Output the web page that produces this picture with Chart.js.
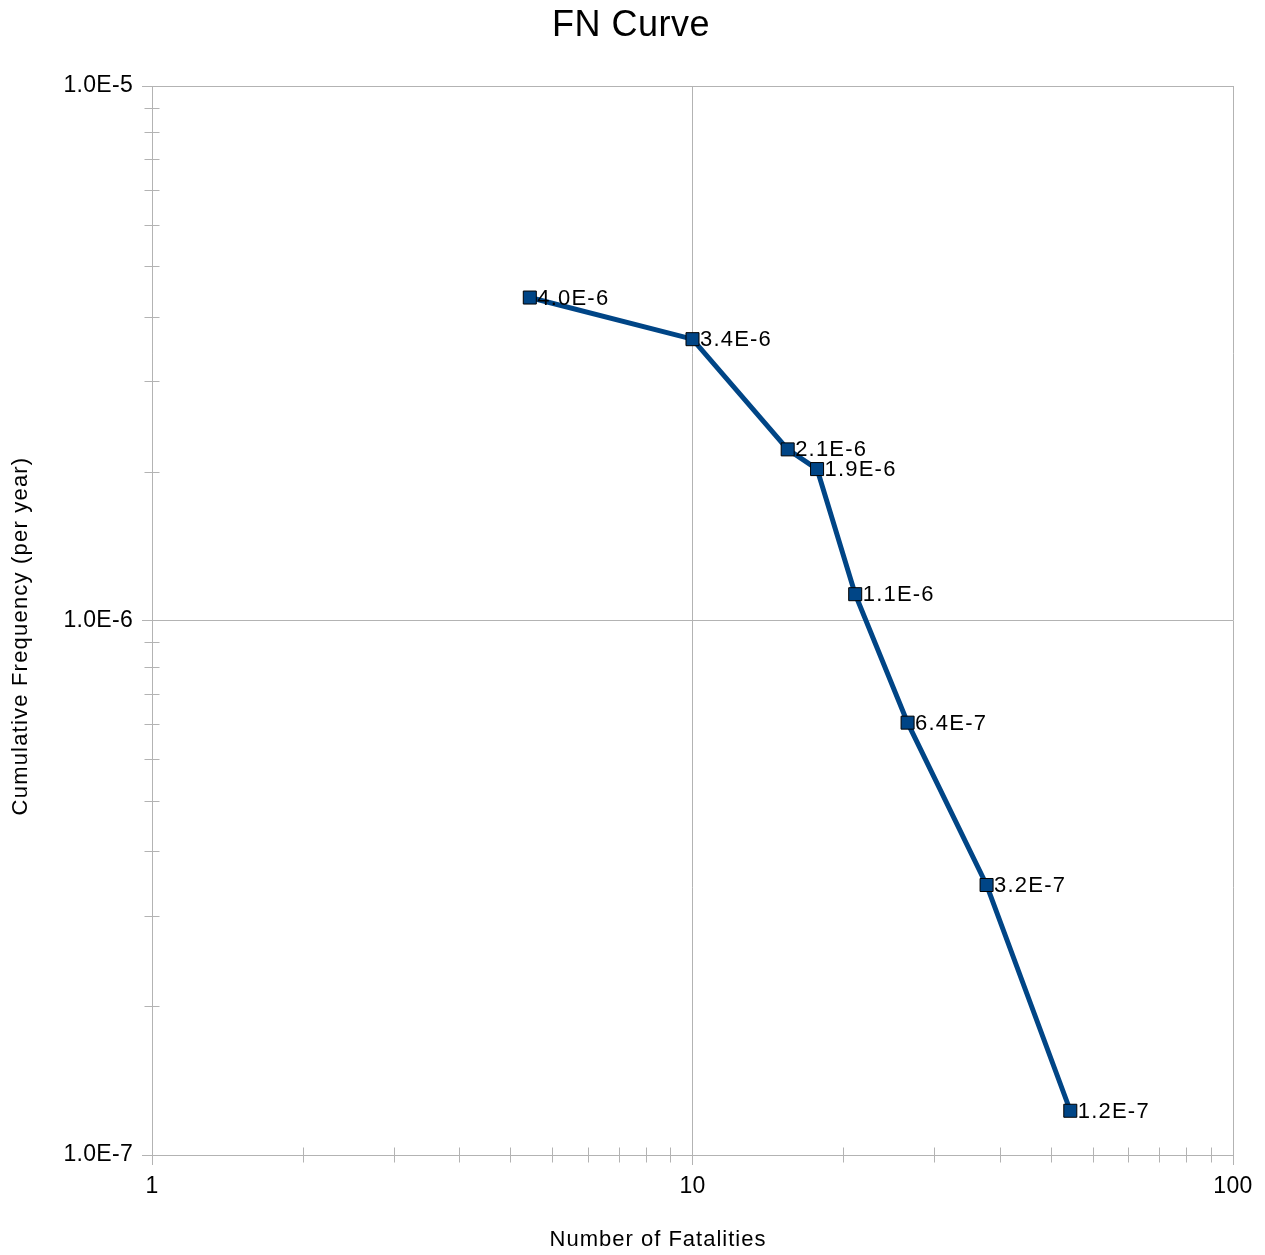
<!DOCTYPE html>
<html><head><meta charset="utf-8">
<script src="https://cdn.jsdelivr.net/npm/chart.js@4.4.0/dist/chart.umd.min.js"></script>
<style>html,body{margin:0;padding:0;background:#fff;}#wrap{width:1265px;height:1255px;}</style>
</head><body><div id="wrap"><canvas id="c" width="1265" height="1255"></canvas></div>
<script>
const fatalities = [5, 10, 15, 17, 20, 25, 35, 50];
const frequency = [4.02e-6, 3.36e-6, 2.09e-6, 1.92e-6, 1.12e-6, 6.44e-7, 3.2e-7, 1.21e-7];
const xMajorTicks = [1, 10, 100];
const yMajorTicks = [1e-7, 1e-6, 1e-5];
const minorSteps = [1.9, 2.8, 3.7, 4.6, 5.5, 6.4, 7.3, 8.2, 9.1];
const chartTitle = 'FN Curve';
const xTitle = 'Number of Fatalities';
const yTitle = 'Cumulative Frequency (per year)';

const FONT = "'Liberation Sans', Arial, sans-serif";
const GRID = '#b3b3b3';
const LINE = '#004586';

function fmtE(v) {
  const parts = Number(v).toExponential(1).split('e');
  const e = parts[1][0] === '+' ? parts[1].slice(1) : parts[1];
  return parts[0] + 'E' + e;
}

const helper = {
  id: 'helper',
  beforeDraw(chart) {
    const ctx = chart.ctx;
    ctx.save();
    ctx.fillStyle = '#fff';
    ctx.fillRect(0, 0, chart.width, chart.height);
    ctx.restore();
    ctx.letterSpacing = '0.3px';
  },
  beforeDatasetsDraw(chart) {
    const ctx = chart.ctx, a = chart.chartArea;
    const xs = chart.scales.x, ys = chart.scales.y;
    ctx.save();
    ctx.strokeStyle = GRID;
    ctx.lineWidth = 1;
    ctx.beginPath();
    for (let i = 0; i < xMajorTicks.length - 1; i++) {
      for (const s of minorSteps) {
        const px = Math.round(xs.getPixelForValue(xMajorTicks[i] * s)) + 0.5;
        ctx.moveTo(px, a.bottom - 7.5);
        ctx.lineTo(px, a.bottom + 7.5);
      }
    }
    for (let i = 0; i < yMajorTicks.length - 1; i++) {
      for (const s of minorSteps) {
        const py = Math.round(ys.getPixelForValue(yMajorTicks[i] * s)) + 0.5;
        ctx.moveTo(a.left - 7.5, py);
        ctx.lineTo(a.left + 7.5, py);
      }
    }
    ctx.stroke();
    ctx.restore();
  },
  afterDatasetsDraw(chart) {
    const ctx = chart.ctx;
    const meta = chart.getDatasetMeta(0);
    ctx.save();
    ctx.letterSpacing = '1.2px';
    ctx.font = '22px ' + FONT;
    ctx.fillStyle = '#000';
    ctx.textAlign = 'left';
    ctx.textBaseline = 'middle';
    meta.data.forEach((el, i) => {
      ctx.fillText(fmtE(frequency[i]), el.x + 7.5, el.y + 1);
    });
    ctx.restore();
  },
  afterDraw(chart) {
    const ctx = chart.ctx;
    ctx.save();
    ctx.fillStyle = '#000';
    ctx.textAlign = 'center';
    ctx.textBaseline = 'middle';
    ctx.letterSpacing = '0.5px';
    ctx.font = '36px ' + FONT;
    ctx.fillText(chartTitle, 631, 26);
    ctx.letterSpacing = '1px';
    ctx.font = '22px ' + FONT;
    ctx.fillText(xTitle, 658, 1240);
    ctx.letterSpacing = '1.2px';
    ctx.translate(21, 636);
    ctx.rotate(-Math.PI / 2);
    ctx.fillText(yTitle, 0, 0);
    ctx.restore();
  }
};

new Chart(document.getElementById('c'), {
  type: 'line',
  data: {
    datasets: [{
      data: fatalities.map((x, i) => ({ x: x, y: frequency[i] })),
      borderColor: LINE,
      borderWidth: 5,
      backgroundColor: LINE,
      pointStyle: 'rect',
      pointRadius: 9.2,
      pointBackgroundColor: LINE,
      pointBorderColor: '#000',
      pointBorderWidth: 1,
      tension: 0,
      fill: false
    }]
  },
  options: {
    responsive: false,
    animation: false,
    devicePixelRatio: 1,
    layout: { padding: { left: 0, right: 32, top: 86, bottom: 0 } },
    plugins: {
      legend: { display: false },
      tooltip: { enabled: false },
      title: { display: false }
    },
    scales: {
      x: {
        type: 'logarithmic',
        position: 'bottom',
        min: 1, max: 100,
        afterBuildTicks: s => { s.ticks = xMajorTicks.map(v => ({ value: v })); },
        afterFit: s => { s.height = 100; },
        ticks: {
          callback: v => String(v),
          color: '#000',
          font: { family: FONT, size: 23 },
          padding: 8,
          autoSkip: false,
          maxRotation: 0
        },
        grid: { color: GRID, lineWidth: 1, tickLength: 10, tickColor: GRID },
        border: { color: GRID, width: 1 }
      },
      y: {
        type: 'logarithmic',
        position: 'left',
        min: 1e-7, max: 1e-5,
        afterBuildTicks: s => { s.ticks = yMajorTicks.map(v => ({ value: v })); },
        afterFit: s => { s.width = 152; },
        ticks: {
          callback: v => fmtE(v),
          color: '#000',
          font: { family: FONT, size: 23 },
          padding: 9,
          autoSkip: false
        },
        grid: { color: GRID, lineWidth: 1, tickLength: 10, tickColor: GRID },
        border: { color: GRID, width: 1 }
      }
    }
  },
  plugins: [helper]
});
</script>
</body></html>
